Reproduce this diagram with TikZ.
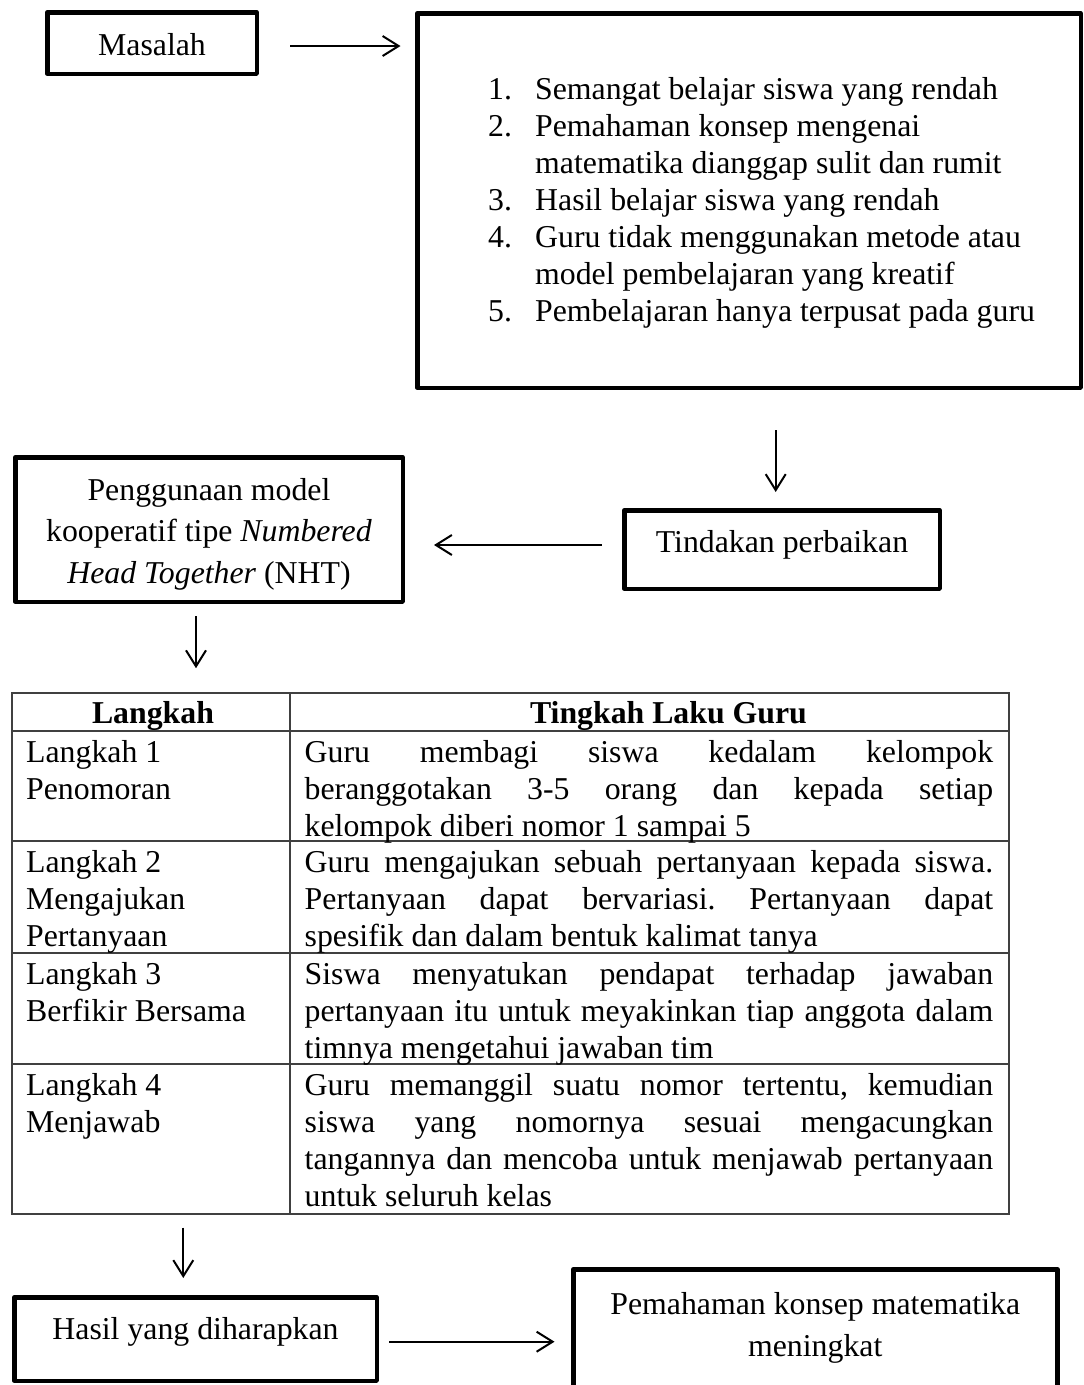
\documentclass[tikz,border=0pt]{standalone}
\usepackage{fontspec}
\setmainfont{Liberation Serif}
\usetikzlibrary{arrows.meta}
\newcommand{\boxfont}{\fontsize{31.8}{41.5}\selectfont}
\newcommand{\listfont}{\fontsize{31.8}{37}\selectfont}
\newcommand{\cellfont}{\fontsize{31.8}{37}\selectfont}
\newlength{\celltextw}
\setlength{\celltextw}{688.5pt}
\newcommand{\jline}[1]{\makebox[\celltextw][s]{#1}}
\begin{document}
\frenchspacing
\begin{tikzpicture}[x=1pt,y=-1pt,
  box/.style={draw, line width=4.5pt, line join=round, inner sep=0pt, align=center, font=\boxfont},
  arr/.style={line width=2pt, -{Straight Barb[length=16pt,width=20pt]}},
  grid/.style={draw=black!75, line width=1.6pt},
  cell/.style={anchor=north west, inner sep=0pt, align=left, font=\cellfont},
  head/.style={anchor=base, inner sep=0pt, font=\bfseries\cellfont},
]
\useasboundingbox (0,0) rectangle (1084,1385);
\clip (0,0) rectangle (1084,1385);

% boxes of the flow
\node[box, minimum width=209.5pt, minimum height=61.5pt, text height=24pt, text depth=0pt] (ms) at (152,43) {Masalah};
\node[box, minimum width=663.5pt, minimum height=374.5pt] (big) at (749,200.5) {};
\node[anchor=north west, inner sep=0pt, font=\listfont] (daftar) at (488,73.4) {%
  \begin{tabular}{@{}l@{\hspace{23.15pt}}l@{}}
  1. & Semangat belajar siswa yang rendah\\
  2. & Pemahaman konsep mengenai\\
     & matematika dianggap sulit dan rumit\\
  3. & Hasil belajar siswa yang rendah\\
  4. & Guru tidak menggunakan metode atau\\
     & model pembelajaran yang kreatif\\
  5. & Pembelajaran hanya terpusat pada guru
  \end{tabular}};
\node[box, minimum width=315.5pt, minimum height=78.5pt, text height=17pt, text depth=10.6pt] (tk) at (782,549.5) {Tindakan perbaikan};
\node[box, minimum width=387.5pt, minimum height=144.5pt] (pg) at (209,529.5)
  {\rule{0pt}{30.8pt}Penggunaan model\\ kooperatif tipe \textit{Numbered}\\ \textit{Head Together} (NHT)};
\node[box, minimum width=362.5pt, minimum height=83.5pt, text height=12pt, text depth=12pt] (hs) at (195.5,1339) {Hasil yang diharapkan};
\node[box, minimum width=484pt, minimum height=120.5pt, font=\fontsize{31.8}{42.7}\selectfont] (pm) at (815.25,1329.5)
  {Pemahaman konsep matematika\\ meningkat\rule[-9.8pt]{0pt}{0pt}};

% table of the NHT steps
\node[grid, inner sep=0pt, minimum width=997pt, minimum height=521pt] (tbl) at (510.5,953.5) {};
\draw[grid] (290,693) -- (290,1214);
\draw[grid] (12,730.7) -- (1009,730.7);
\draw[grid] (12,841) -- (1009,841);
\draw[grid] (12,953) -- (1009,953);
\draw[grid] (12,1064) -- (1009,1064);

\node[head] (h1) at (153,723) {Langkah};
\node[head] (h2) at (668.5,723) {Tingkah Laku Guru};

\node[cell] (l1) at (26,736.1) {\strut Langkah 1\\ Penomoran};
\node[cell] (l2) at (26,846.4) {\strut Langkah 2\\ Mengajukan\\ Pertanyaan};
\node[cell] (l3) at (26,958.1) {\strut Langkah 3\\ Berfikir Bersama};
\node[cell] (l4) at (26,1069.1) {\strut Langkah 4\\ Menjawab};

\node[cell] (r1) at (304.5,736.1) {\strut\jline{Guru membagi siswa kedalam kelompok}\\
  \jline{beranggotakan 3-5 orang dan kepada setiap}\\
  kelompok diberi nomor 1 sampai 5};
\node[cell] (r2) at (304.5,846.4) {\strut\jline{Guru mengajukan sebuah pertanyaan kepada siswa.}\\
  \jline{Pertanyaan dapat bervariasi. Pertanyaan dapat}\\
  spesifik dan dalam bentuk kalimat tanya};
\node[cell] (r3) at (304.5,958.1) {\strut\jline{Siswa menyatukan pendapat terhadap jawaban}\\
  \jline{pertanyaan itu untuk meyakinkan tiap anggota dalam}\\
  timnya mengetahui jawaban tim};
\node[cell] (r4) at (304.5,1069.1) {\strut\jline{Guru memanggil suatu nomor tertentu, kemudian}\\
  \jline{siswa yang nomornya sesuai mengacungkan}\\
  \jline{tangannya dan mencoba untuk menjawab pertanyaan}\\
  untuk seluruh kelas};

% connectors
\coordinate (a1) at ([yshift=-3pt]ms.east);
\draw[arr, shorten <=31pt, shorten >=14.5pt] (a1) -- (a1 -| big.west);
\coordinate (a2) at ([xshift=26.7pt]big.south);
\draw[arr, shorten <=40pt, shorten >=16pt] (a2) -- (a2 |- tk.north);
\coordinate (a3) at ([yshift=4.5pt]tk.west);
\draw[arr, shorten <=20.5pt, shorten >=29pt] (a3) -- (a3 -| pg.east);
\coordinate (a4) at ([xshift=-13pt]pg.south);
\draw[arr, shorten <=12pt, shorten >=24pt] (a4) -- (a4 |- tbl.north);
\coordinate (a5) at ([xshift=-12.2pt]hs.north);
\draw[arr, shorten <=12.7pt, shorten >=17pt] (a5 |- tbl.south) -- (a5);
\coordinate (a6) at ([yshift=-2.7pt]hs.east);
\draw[arr, shorten <=10pt, shorten >=16.5pt] (a6) -- (a6 -| pm.west);
\end{tikzpicture}
\end{document}
